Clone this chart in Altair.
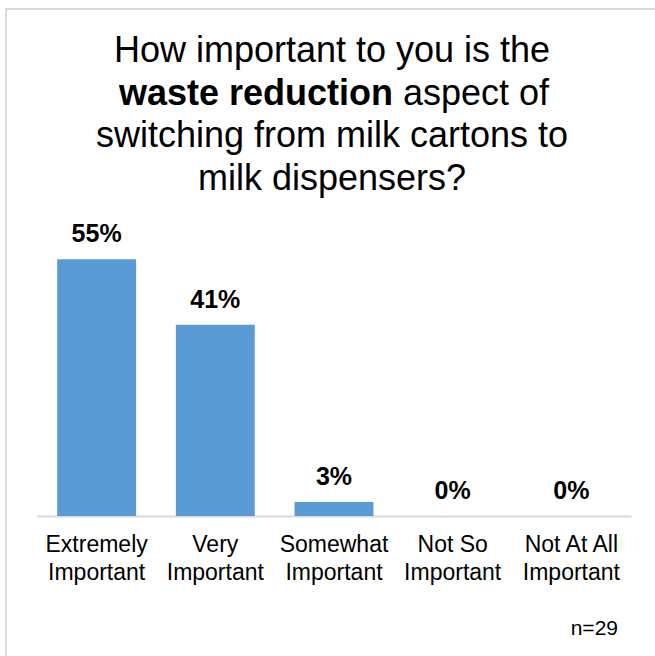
import altair as alt
import pandas as pd

# Survey answers (share of respondents, %)
categories = ["Extremely|Important", "Very|Important", "Somewhat|Important",
              "Not So|Important", "Not At All|Important"]
shares = [55, 41, 3, 0, 0]
labels = ["55%", "41%", "3%", "0%", "0%"]

df = pd.DataFrame({"category": categories, "share": shares, "label": labels})

FONT = "Liberation Sans"
BAR = "#5b9bd5"
GRID = "#d9d9d9"

x_enc = alt.X(
    "category:N",
    sort=categories,
    title=None,
    scale=alt.Scale(paddingInner=0.335, paddingOuter=0.17),
    axis=alt.Axis(
        labelAngle=0,
        labelExpr="split(datum.label, '|')",
        labelFont=FONT,
        labelFontSize=23,
        labelColor="#000000",
        labelLineHeight=28,
        labelPadding=17,
        labelBaseline="top",
        ticks=False,
        domainColor=GRID,
        domainWidth=2,
        grid=False,
    ),
)
y_enc = alt.Y("share:Q", scale=alt.Scale(domain=[0, 60]), axis=None)

bars = alt.Chart(df).mark_bar(color=BAR).encode(x=x_enc, y=y_enc)

values = alt.Chart(df).mark_text(
    font=FONT, fontSize=25, fontWeight="bold", color="#000000",
    baseline="alphabetic", dy=-17,
).encode(x=alt.X("category:N", sort=categories), y="share:Q", text="label:N")

one = alt.Data(values=[{}])

# outer frame around the figure
frame = alt.Chart(one).mark_rect(fill=None, stroke=GRID, strokeWidth=2).encode(
    x=alt.value(-31), x2=alt.value(700), y=alt.value(-227), y2=alt.value(700)
)

TITLE_SIZE = 36
CX = 295
title_lines = [
    ("How important to you is the", -174),
    ("switching from milk cartons to", -89),
    ("milk dispensers?", -46.5),
]
title_parts = []
for txt, ty in title_lines:
    title_parts.append(
        alt.Chart(one).mark_text(
            text=txt, font=FONT, fontSize=TITLE_SIZE, color="#000000",
            align="center", baseline="alphabetic",
        ).encode(x=alt.value(CX), y=alt.value(ty))
    )
# second title line: bold phrase followed by regular text
BOLD_END = 356
title_parts.append(
    alt.Chart(one).mark_text(
        text="waste reduction", font=FONT, fontSize=TITLE_SIZE, fontWeight="bold",
        color="#000000", align="right", baseline="alphabetic",
    ).encode(x=alt.value(BOLD_END), y=alt.value(-131.5))
)
title_parts.append(
    alt.Chart(one).mark_text(
        text="aspect of", font=FONT, fontSize=TITLE_SIZE, color="#000000",
        align="left", baseline="alphabetic",
    ).encode(x=alt.value(BOLD_END + 10), y=alt.value(-131.5))
)

note = alt.Chart(one).mark_text(
    text="n=29", font=FONT, fontSize=21, color="#000000",
    align="right", baseline="alphabetic",
).encode(x=alt.value(581), y=alt.value(399))

chart = alt.layer(frame, bars, values, *title_parts, note).properties(
    width=594,
    height=280,
    padding={"left": 37, "top": 236, "right": 24, "bottom": 140},
    autosize=alt.AutoSizeParams(type="none"),
    background="white",
).configure_view(stroke=None)

chart.save("out.html", embed_options={"renderer": "svg", "actions": False})
